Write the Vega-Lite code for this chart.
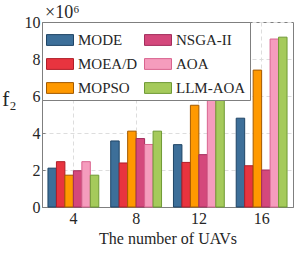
{
  "$schema": "https://vega.github.io/schema/vega-lite/v6.json",
  "width": 251,
  "height": 185,
  "autosize": "none",
  "padding": {"left": 42, "top": 22, "right": 6, "bottom": 49},
  "background": "white",
  "title": {"text": "×10⁶", "anchor": "start", "frame": "group", "offset": -8, "dx": 3, "fontSize": 18, "font": "Liberation Serif", "fontWeight": "normal", "color": "#262626"},
  "config": {
    "font": "Liberation Serif",
    "view": {"stroke": "#7f7f7f", "strokeWidth": 1}
  },
  "data": {"values": [
    {"n": "4", "alg": "MODE", "v": 2.1},
    {"n": "4", "alg": "MOEA/D", "v": 2.45},
    {"n": "4", "alg": "MOPSO", "v": 1.72},
    {"n": "4", "alg": "NSGA-II", "v": 1.96},
    {"n": "4", "alg": "AOA", "v": 2.45},
    {"n": "4", "alg": "LLM-AOA", "v": 1.72},
    {"n": "8", "alg": "MODE", "v": 3.57},
    {"n": "8", "alg": "MOEA/D", "v": 2.38},
    {"n": "8", "alg": "MOPSO", "v": 4.1},
    {"n": "8", "alg": "NSGA-II", "v": 3.7},
    {"n": "8", "alg": "AOA", "v": 3.38},
    {"n": "8", "alg": "LLM-AOA", "v": 4.1},
    {"n": "12", "alg": "MODE", "v": 3.37},
    {"n": "12", "alg": "MOEA/D", "v": 2.41},
    {"n": "12", "alg": "MOPSO", "v": 5.5},
    {"n": "12", "alg": "NSGA-II", "v": 2.83},
    {"n": "12", "alg": "AOA", "v": 5.93},
    {"n": "12", "alg": "LLM-AOA", "v": 6.7},
    {"n": "16", "alg": "MODE", "v": 4.8},
    {"n": "16", "alg": "MOEA/D", "v": 2.23},
    {"n": "16", "alg": "MOPSO", "v": 7.4},
    {"n": "16", "alg": "NSGA-II", "v": 2.0},
    {"n": "16", "alg": "AOA", "v": 9.08},
    {"n": "16", "alg": "LLM-AOA", "v": 9.18}
  ]},
  "mark": {"type": "bar", "strokeWidth": 1},
  "encoding": {
    "x": {
      "field": "n", "type": "ordinal", "sort": ["4", "8", "12", "16"],
      "scale": {"paddingInner": 0.19, "paddingOuter": 0.095},
      "axis": {
        "title": "The number of UAVs", "titleFont": "Liberation Serif", "titleFontSize": 16, "titleFontWeight": "normal", "titleColor": "#262626", "titlePadding": 4,
        "labelFont": "Liberation Serif", "labelAngle": 0, "labelFontSize": 16, "labelColor": "#262626", "labelPadding": 6,
        "grid": true, "gridDash": [4, 3], "gridColor": "#dddddd", "bandPosition": 0.5,
        "ticks": true, "tickSize": -3, "tickColor": "#7f7f7f", "domainColor": "#7f7f7f"
      }
    },
    "xOffset": {"field": "alg", "type": "nominal", "sort": ["MODE", "MOEA/D", "MOPSO", "NSGA-II", "AOA", "LLM-AOA"], "scale": {"paddingInner": 0, "paddingOuter": 0}},
    "y": {
      "field": "v", "type": "quantitative",
      "scale": {"domain": [0, 10], "nice": false},
      "axis": {
        "title": "f₂", "titleFont": "Liberation Serif", "titleAngle": 0, "titleFontSize": 21, "titleFontWeight": "normal", "titleColor": "#262626",
        "titleX": -33, "titleY": 83, "titleAlign": "center", "titleBaseline": "alphabetic",
        "values": [0, 2, 4, 6, 8, 10], "labelFont": "Liberation Serif", "labelFontSize": 16, "labelColor": "#262626", "labelPadding": 5,
        "grid": true, "gridDash": [4, 3], "gridColor": "#dddddd",
        "ticks": true, "tickSize": -3, "tickColor": "#7f7f7f", "domainColor": "#7f7f7f"
      }
    },
    "color": {
      "field": "alg", "type": "nominal",
      "scale": {
        "domain": ["MODE", "MOEA/D", "MOPSO", "NSGA-II", "AOA", "LLM-AOA"],
        "range": ["#3d6f99", "#e8343f", "#ff9900", "#d4487c", "#f59cbd", "#a5ca5b"]
      },
      "legend": {
        "title": null, "orient": "top-left", "offset": 0, "columns": 2, "columnPadding": 4,
        "symbolType": "M-1,-0.4H1V0.4H-1Z", "symbolSize": 729, "symbolStrokeWidth": 1, "symbolOpacity": 1,
        "labelFont": "Liberation Serif", "labelFontSize": 15, "labelColor": "#262626", "labelOffset": 4, "rowPadding": 2,
        "padding": 4, "strokeColor": "#7f7f7f", "fillColor": "white", "labelLimit": 100
      }
    },
    "stroke": {
      "field": "alg", "type": "nominal",
      "scale": {
        "domain": ["MODE", "MOEA/D", "MOPSO", "NSGA-II", "AOA", "LLM-AOA"],
        "range": ["#1f4566", "#b01e28", "#a35a00", "#a32d5c", "#d9648f", "#6f9a35"]
      },
      "legend": null
    }
  }
}
